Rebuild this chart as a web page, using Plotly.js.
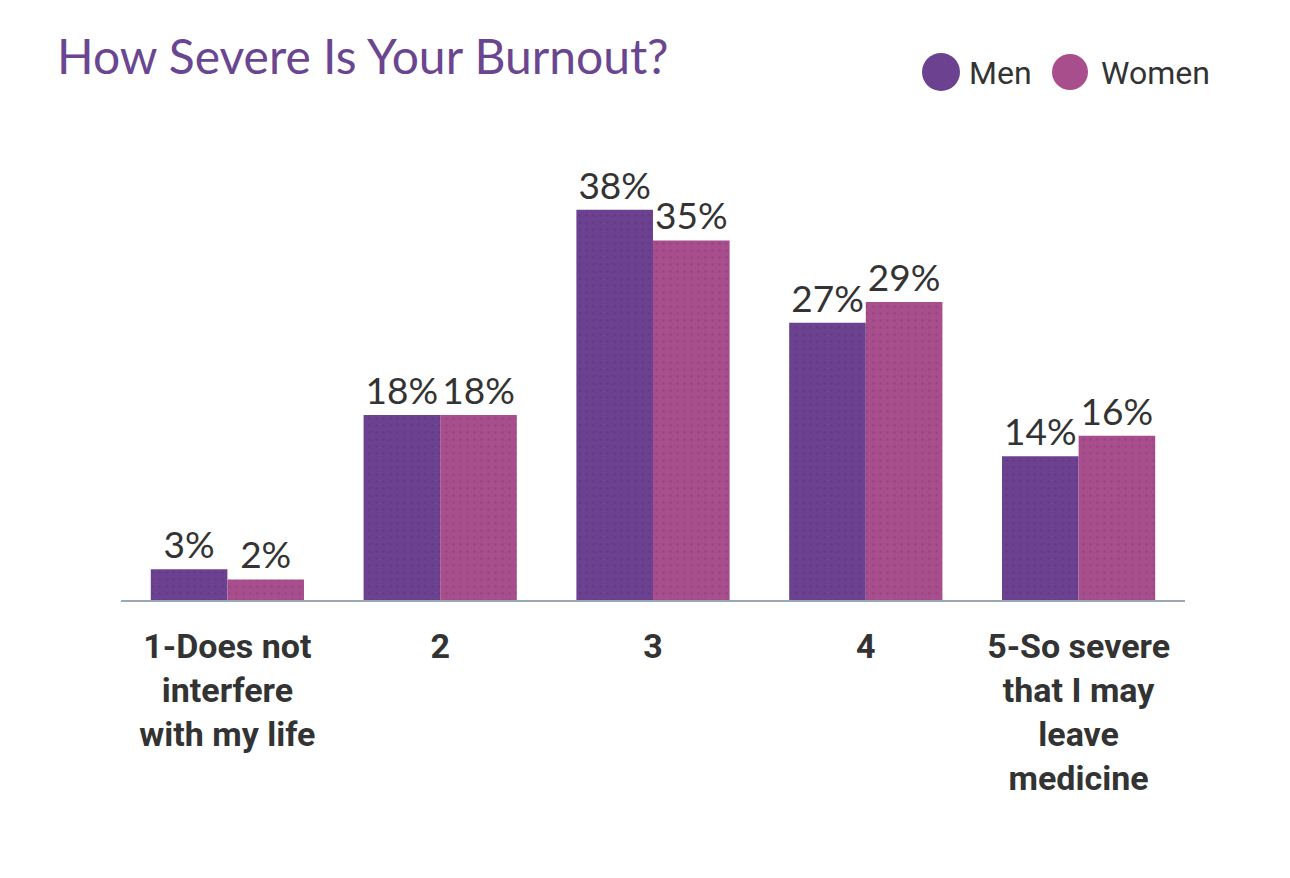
<!DOCTYPE html>
<html>
<head>
<meta charset="utf-8">
<script src="https://cdn.plot.ly/plotly-3.0.1.min.js"></script>
<style>
  html, body { margin: 0; padding: 0; background: #ffffff; }
  #chart { width: 1290px; height: 878px; }
</style>
</head>
<body>
<div id="chart"></div>
<script>
// ---- data ----
const categories = [
  "1-Does not<br>interfere<br>with my life",
  "2",
  "3",
  "4",
  "5-So severe<br>that I may<br>leave<br>medicine"
];
const menValues = [3, 18, 38, 27, 14];
const womenValues = [2, 18, 35, 29, 16];
const seriesNames = ["Men", "Women"];
const chartTitle = "How Severe Is Your Burnout?";

// ---- style ----
const W = 1290, H = 878;
const M = { l: 121, r: 105, t: 184, b: 278 };
const menColor = "#6b4190";
const womenColor = "#a94e8c";
const textColor = "#333333";
const narrowFont = "'Liberation Sans Narrow', 'Roboto', 'DejaVu Sans Condensed', sans-serif";
const labelFont = "Lato, 'Open Sans', sans-serif";

const pw = W - M.l - M.r, ph = H - M.t - M.b;
const px2x = (px) => (px - M.l) / pw;
const px2y = (py) => (H - M.b - py) / ph;

function barTrace(name, values, color) {
  return {
    type: "bar",
    name: name,
    x: categories,
    y: values,
    text: values.map(v => v + "%"),
    textposition: "outside",
    cliponaxis: false,
    textfont: { family: labelFont, size: 37, color: textColor },
    marker: {
      color: color,
      line: { width: 0 },
      pattern: { shape: ".", bgcolor: color, fgcolor: "#2e1a40", fgopacity: 0.18, size: 7, solidity: 0.1 }
    },
    hoverinfo: "skip",
    showlegend: false
  };
}

const data = [
  barTrace(seriesNames[0], menValues, menColor),
  barTrace(seriesNames[1], womenValues, womenColor)
];

const layout = {
  width: W,
  height: H,
  margin: M,
  paper_bgcolor: "#ffffff",
  plot_bgcolor: "#ffffff",
  barmode: "group",
  bargap: 0.28,
  bargroupgap: 0,
  showlegend: false,
  title: {
    text: chartTitle,
    font: { family: labelFont, size: 48, color: "#6b4690", weight: 400 },
    x: 57 / W, xanchor: "left", xref: "container",
    y: 1 - 57 / H, yanchor: "middle", yref: "container"
  },
  xaxis: {
    type: "category",
    showgrid: false,
    zeroline: false,
    showline: true,
    linecolor: "#97a8b6",
    linewidth: 2,
    ticks: "",
    ticklabelstandoff: 15,
    tickfont: { family: narrowFont, size: 34, color: textColor, weight: 700 }
  },
  yaxis: {
    range: [0, 40.5],
    showgrid: false,
    zeroline: false,
    showline: false,
    showticklabels: false,
    ticks: ""
  },
  shapes: [
    { type: "circle", xref: "paper", yref: "paper", xsizemode: "pixel", ysizemode: "pixel",
      xanchor: px2x(941), yanchor: px2y(72), x0: -19, x1: 19, y0: -19, y1: 19,
      fillcolor: menColor, line: { width: 0 } },
    { type: "circle", xref: "paper", yref: "paper", xsizemode: "pixel", ysizemode: "pixel",
      xanchor: px2x(1070), yanchor: px2y(72), x0: -18, x1: 18, y0: -18, y1: 18,
      fillcolor: womenColor, line: { width: 0 } }
  ],
  annotations: [
    { text: seriesNames[0], xref: "paper", yref: "paper", x: px2x(967), y: px2y(73),
      xanchor: "left", yanchor: "middle", showarrow: false,
      font: { family: narrowFont, size: 32, color: textColor } },
    { text: seriesNames[1], xref: "paper", yref: "paper", x: px2x(1099), y: px2y(73),
      xanchor: "left", yanchor: "middle", showarrow: false,
      font: { family: narrowFont, size: 32, color: textColor } }
  ]
};

Plotly.newPlot("chart", data, layout, { displayModeBar: false, staticPlot: true });
</script>
</body>
</html>
